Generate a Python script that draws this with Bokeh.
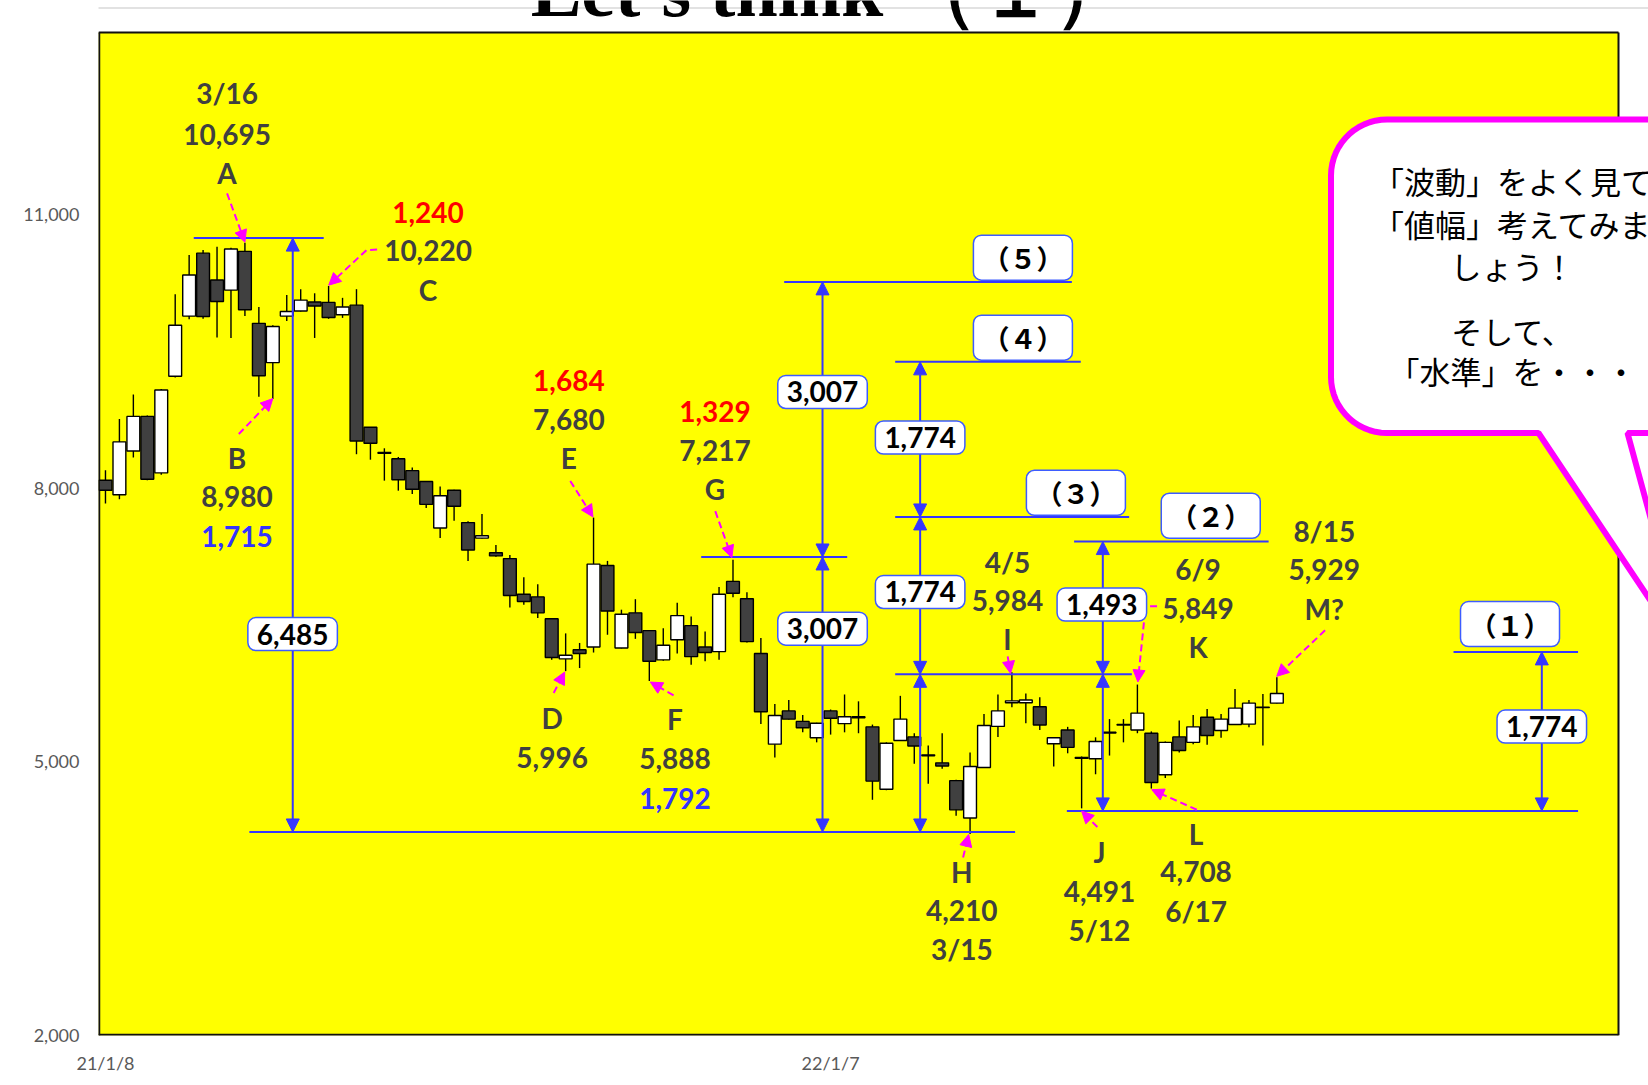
import numpy as np
from bokeh.plotting import figure
from bokeh.models import (Range1d, FixedTicker, NumeralTickFormatter, Label, Arrow,
                          NormalHead, PolyAnnotation, ColumnDataSource)
from bokeh.core.properties import value
from bokeh.embed import file_html
from bokeh.resources import INLINE

# ---------------- data (weekly candles, index 0 = 21/1/8) ----------------
opens = [8090, 7930, 8410, 8790, 8170, 9230, 9890, 10580, 10285, 10175,
         10600, 9810, 9380, 9890, 9945, 10045, 10040, 9905, 10010, 8670,
         8395, 8325, 8195, 8075, 7565, 7980, 7625, 7455, 7295, 7230,
         6840, 6810, 6570, 6130, 6230, 6260, 7155, 6250, 6635, 6440,
         6120, 6340, 6495, 6260, 6210, 6980, 6790, 6190, 5195, 5560,
         5445, 5265, 5560, 5420, 5495, 5385, 4700, 5235, 5275, 5078,
         4990, 4795, 4385, 4940, 5390, 5650, 5650, 5605, 5200, 5350,
         5050, 5035, 5325, 5410, 5350, 5315, 4860, 5275, 5215, 5490,
         5345, 5410, 5415, 5600, 5645]
highs = [8200, 8760, 9030, 8800, 9090, 10130, 10560, 10615, 10650, 10640,
         10695, 9990, 9790, 10120, 10185, 10140, 10220, 10090, 10185, 8670,
         8440, 8345, 8230, 8080, 8020, 7985, 7640, 7720, 7380, 7270,
         7025, 6950, 6575, 6410, 6305, 7680, 7205, 6670, 6785, 6445,
         6465, 6745, 6595, 6430, 6920, 7217, 6860, 6360, 5635, 5680,
         5515, 5430, 5575, 5740, 5665, 5410, 5215, 5725, 5315, 5180,
         5315, 4805, 5105, 5525, 5740, 5984, 5750, 5710, 5270, 5385,
         5060, 5270, 5470, 5470, 5849, 5335, 5225, 5455, 5515, 5580,
         5525, 5800, 5680, 5745, 5929]
lows = [7835, 7880, 8340, 8090, 8150, 9215, 9855, 9860, 9655, 9650,
        9890, 9005, 8980, 9835, 9940, 9650, 9860, 9870, 8375, 8315,
        8085, 7975, 7940, 7785, 7455, 7645, 7205, 7450, 7250, 6695,
        6725, 6580, 6120, 5996, 6030, 6200, 6395, 6245, 6350, 5888,
        6110, 6190, 6065, 6105, 6120, 6805, 6310, 5415, 5050, 5465,
        5325, 5215, 5300, 5325, 5315, 4585, 4690, 5230, 4980, 4760,
        4925, 4410, 4210, 4935, 5275, 5600, 5425, 5350, 4950, 5095,
        4491, 4865, 5070, 5215, 5315, 4708, 4825, 5105, 5195, 5190,
        5265, 5405, 5380, 5180, 5640]
closes = [7980, 8510, 8790, 8100, 9080, 9790, 10340, 9885, 10050, 10625,
          9960, 9235, 9775, 9940, 10065, 10000, 9875, 9990, 8520, 8495,
          8385, 8095, 7990, 7825, 7920, 7805, 7325, 7480, 7260, 6825,
          6760, 6635, 6145, 6170, 6190, 7170, 6655, 6620, 6420, 6105,
          6280, 6605, 6155, 6200, 6840, 6850, 6320, 5550, 5510, 5470,
          5375, 5425, 5480, 5495, 5485, 4790, 5205, 5470, 5175, 5068,
          4955, 4475, 4950, 5400, 5560, 5670, 5680, 5405, 5265, 5160,
          5040, 5225, 5318, 5405, 5535, 4775, 5215, 5125, 5385, 5290,
          5470, 5590, 5645, 5597, 5750]
weeks = list(range(len(opens)))
x_tick_pos = [0, 52]
x_tick_labels = ["21/1/8", "22/1/7"]
y_ticks = [2000, 5000, 8000, 11000]
plot_x = [-0.5, 108.5]      # category extent of the plot area
plot_y = [2000, 13000]      # value extent of the plot area

# horizontal level lines (x from, x to, level)
hl_x0 = [6.33, 10.32, 42.72, 48.67, 56.63, 56.63, 56.63, 69.46, 68.94, 96.67]
hl_x1 = [15.65, 65.23, 53.19, 69.30, 69.94, 73.41, 73.60, 83.41, 105.6, 105.6]
hl_y = [10745, 4232, 7248, 10265, 9388, 7687, 5961, 7417, 4463, 6207]

# vertical double arrows
va_x = [13.43, 51.42, 51.42, 58.42, 58.42, 58.42, 71.52, 71.52, 103.0]
va_y0 = [4232, 7248, 4232, 4232, 5961, 7687, 4463, 5961, 4463]
va_y1 = [10745, 10265, 7248, 5961, 7687, 9388, 5961, 7417, 6207]

# boxed range labels
box_text = ["6,485", "3,007", "3,007", "1,774", "1,774", "1,493", "1,774"]
box_x = [13.42, 51.42, 51.42, 58.42, 58.42, 71.45, 103.0]
box_y = [6402, 9058, 6462, 8558, 6864, 6726, 5388]

# boxed level names
lvl_text = ["（５）", "（４）", "（３）", "（２）", "（１）"]
lvl_x = [65.79, 65.79, 69.59, 79.26, 100.72]
lvl_y = [10531, 9653, 7952, 7700, 6512]

# point annotations
GRAY, RED, BLUE_T = "#404040", "#ff0000", "#3333ff"
ann_text = ["3/16", "10,695", "A",
            "B", "8,980", "1,715",
            "1,240", "10,220", "C",
            "1,684", "7,680", "E",
            "D", "5,996",
            "F", "5,888", "1,792",
            "1,329", "7,217", "G",
            "4/5", "5,984", "I",
            "H", "4,210", "3/15",
            "J", "4,491", "5/12",
            "6/9", "5,849", "K",
            "L", "4,708", "6/17",
            "8/15", "5,929", "M?"]
ann_x = [8.72] * 3 + [9.43] * 3 + [23.13] * 3 + [33.23] * 3 + [32.03] * 2 + [40.84] * 3 + \
        [43.71] * 3 + [64.68] * 3 + [61.41] * 3 + [71.28] * 3 + [78.35] * 3 + [78.21] * 3 + [87.4] * 3
ann_y = [12332, 11886, 11455,
         8329, 7914, 7475,
         11027, 10605, 10174,
         9181, 8756, 8329,
         5480, 5054,
         5467, 5042, 4604,
         8847, 8421, 7994,
         7195, 6773, 6351,
         3796, 3369, 2944,
         4016, 3578, 3152,
         7120, 6682, 6261,
         4212, 3796, 3369,
         7532, 7106, 6680]
ann_color = [GRAY, GRAY, GRAY,
             GRAY, GRAY, BLUE_T,
             RED, GRAY, GRAY,
             RED, GRAY, GRAY,
             GRAY, GRAY,
             GRAY, GRAY, BLUE_T,
             RED, GRAY, GRAY] + [GRAY] * 18

# magenta pointer arrows (start -> tip)
ma_x0 = [8.72, 9.56, 18.71, 33.33, 32.14, 40.74, 43.73, 64.70, 61.50, 71.13, 74.55, 78.26, 87.46]
ma_y0 = [11235, 8596, 10613, 8082, 5756, 5731, 7750, 6158, 3953, 4286, 6650, 4476, 6444]
ma_x1 = [10.0, 12.0, 16.01, 34.96, 32.93, 39.07, 44.92, 64.90, 61.90, 70.0, 74.03, 75.03, 83.99]
ma_y1 = [10700, 8985, 10229, 7687, 5986, 5876, 7241, 5972, 4205, 4461, 5877, 4696, 5939]
# dashed connectors (C and K)
conn_xs = [[19.48, 18.71], [75.41, 74.62, 74.55]]
conn_ys = [[10621, 10613], [6707, 6707, 6650]]

bubble_lines = ["「波動」をよく見て", "「値幅」考えてみま", "しょう！", "そして、", "「水準」を・・・"]

# ---------------- geometry helpers (page pixels -> data, decorative shapes only) ----------------
W, H = 1648, 1085
FX0, FX1, FY0, FY1 = 98.0, 1618.0, 32.0, 1035.0   # page px of the yellow plot area
def dx(px):
    return plot_x[0] + (px - FX0) / (FX1 - FX0) * (plot_x[1] - plot_x[0])
def dy(py):
    return plot_y[0] + (FY1 - py) / (FY1 - FY0) * (plot_y[1] - plot_y[0])

# ---------------- figure ----------------
# the frame runs to the right and top edges so the bubble and title can overflow the plot area
p = figure(width=W, height=H, x_range=Range1d(plot_x[0], dx(W)), y_range=Range1d(plot_y[0], dy(0)),
           output_backend="svg", toolbar_location=None, title=None,
           min_border_left=int(FX0), min_border_right=0, min_border_top=0,
           min_border_bottom=int(H - FY1))
p.background_fill_color = "white"
p.border_fill_color = "white"
p.outline_line_color = None
p.grid.visible = False

for ax in (p.xaxis[0], p.yaxis[0]):
    ax.axis_line_color = None
    ax.major_tick_line_color = None
    ax.minor_tick_line_color = None
    ax.major_tick_out = 0
    ax.major_tick_in = 0
    ax.major_label_text_font = "Lato"
    ax.major_label_text_font_size = "18px"
    ax.major_label_text_color = "#595959"
p.xaxis.ticker = FixedTicker(ticks=x_tick_pos)
p.xaxis.major_label_overrides = {t: l for t, l in zip(x_tick_pos, x_tick_labels)}
p.xaxis.major_label_standoff = 16
p.yaxis.ticker = FixedTicker(ticks=y_ticks)
p.yaxis.formatter = NumeralTickFormatter(format="0,0")
p.yaxis.major_label_standoff = 19

# outer light border (top part visible within the canvas)
p.segment(x0=[dx(7.5)], y0=[dy(7.5)], x1=[dx(1700)], y1=[dy(7.5)], line_color="#d9d9d9", line_width=1.5)

# yellow plot area with black border
p.quad(left=[plot_x[0]], right=[plot_x[1]], bottom=[plot_y[0]], top=[plot_y[1]],
       fill_color="#ffff00", line_color=None)
p.segment(x0=[plot_x[0], plot_x[0], plot_x[0], plot_x[1]],
          y0=[plot_y[0], plot_y[1], plot_y[0], plot_y[0]],
          x1=[plot_x[1], plot_x[1], plot_x[0], plot_x[1]],
          y1=[plot_y[0], plot_y[1], plot_y[1], plot_y[1]],
          line_color="#111111", line_width=[3.5, 2, 3.5, 2])

# candles
body_top = [max(o, c) for o, c in zip(opens, closes)]
body_bot = [min(o, c) for o, c in zip(opens, closes)]
body_col = ["white" if c > o else "#404040" for o, c in zip(opens, closes)]
src = ColumnDataSource(dict(x=weeks, hi=highs, lo=lows, top=body_top, bot=body_bot, col=body_col))
p.segment(x0="x", y0="lo", x1="x", y1="hi", source=src, line_color="black", line_width=1.4)
p.vbar(x="x", width=0.92, top="top", bottom="bot", fill_color="col", line_color="black",
       line_width=1.4, source=src)

BLUE = "#3636ff"
MAG = "#ff00ff"

# level lines
p.segment(x0=hl_x0, y0=hl_y, x1=hl_x1, y1=hl_y, line_color=BLUE, line_width=2)

# vertical arrows
for x, y0, y1 in zip(va_x, va_y0, va_y1):
    p.add_layout(Arrow(start=NormalHead(size=13, fill_color=BLUE, line_color=BLUE, line_width=1),
                       end=NormalHead(size=13, fill_color=BLUE, line_color=BLUE, line_width=1),
                       x_start=x, y_start=y0, x_end=x, y_end=y1,
                       line_color=BLUE, line_width=2))

# magenta connectors and arrows
for xs, ys in zip(conn_xs, conn_ys):
    p.line(xs, ys, line_color=MAG, line_width=2, line_dash="7 4")
for x0, y0, x1, y1 in zip(ma_x0, ma_y0, ma_x1, ma_y1):
    p.add_layout(Arrow(end=NormalHead(size=12, fill_color=MAG, line_color=MAG, line_width=1),
                       x_start=x0, y_start=y0, x_end=x1, y_end=y1,
                       line_color=MAG, line_width=2, line_dash="7 4"))

# point annotation texts
asrc = ColumnDataSource(dict(x=ann_x, y=ann_y, t=ann_text, c=ann_color))
p.text(x="x", y="y", text="t", text_color="c", source=asrc, text_font=value("Lato"),
       text_font_style="bold", text_font_size="28px", text_align="center", text_baseline="middle")

# boxed labels
for t, x, y in zip(box_text, box_x, box_y):
    p.add_layout(Label(x=x, y=y, text=t, text_font="Lato", text_font_style="bold",
                       text_font_size="28px", text_color="black", text_align="center",
                       text_baseline="middle", background_fill_color="white",
                       border_line_color="#3d5cff", border_line_width=1.5, border_radius=8,
                       padding=dict(left=9, right=9, top=6, bottom=6)))
for t, x, y in zip(lvl_text, lvl_x, lvl_y):
    p.add_layout(Label(x=x, y=y, text=t, text_font="Noto Sans CJK JP", text_font_style="bold",
                       text_font_size="27px", text_color="black", text_align="center",
                       text_baseline="middle", background_fill_color="white",
                       border_line_color="#3d5cff", border_line_width=1.5, border_radius=8,
                       padding=dict(left=9, right=9, top=3, bottom=3)))

# speech bubble
L_, T_, B_, R_, r_ = 1330.5, 119.0, 432.5, 1760.0, 56.0
pts = []
for a in np.linspace(np.pi, 1.5 * np.pi, 16):
    pts.append((L_ + r_ + r_ * np.cos(a), T_ + r_ + r_ * np.sin(a)))
pts += [(R_, T_), (R_, B_), (1627.0, B_), (1688.0, 657.0), (1538.0, B_)]
for a in np.linspace(0.5 * np.pi, np.pi, 16):
    pts.append((L_ + r_ + r_ * np.cos(a), B_ - r_ + r_ * np.sin(a)))
p.add_layout(PolyAnnotation(xs=[dx(a) for a, b in pts], ys=[dy(b) for a, b in pts],
                            fill_color="white", fill_alpha=1.0, line_color=MAG, line_alpha=1.0,
                            line_width=6, level="overlay"))
line_py = [180.4, 222.5, 264.6, 329.6, 369.8]
for t, py in zip(bubble_lines, line_py):
    p.add_layout(Label(x=dx(1512), y=dy(py), text=t, text_font="Noto Sans CJK JP",
                       text_font_size="31px", text_color="black", text_align="center",
                       text_baseline="middle", level="overlay"))

# title (mostly above the visible area, as in the reference)
p.add_layout(Label(x=dx(830), y=dy(-11), text="Let's think （１）", text_font="Liberation Serif",
                   text_font_style="bold", text_font_size="76px", text_color="black",
                   text_align="center", text_baseline="alphabetic", level="overlay"))

open("out.html", "w").write(file_html(p, INLINE))
